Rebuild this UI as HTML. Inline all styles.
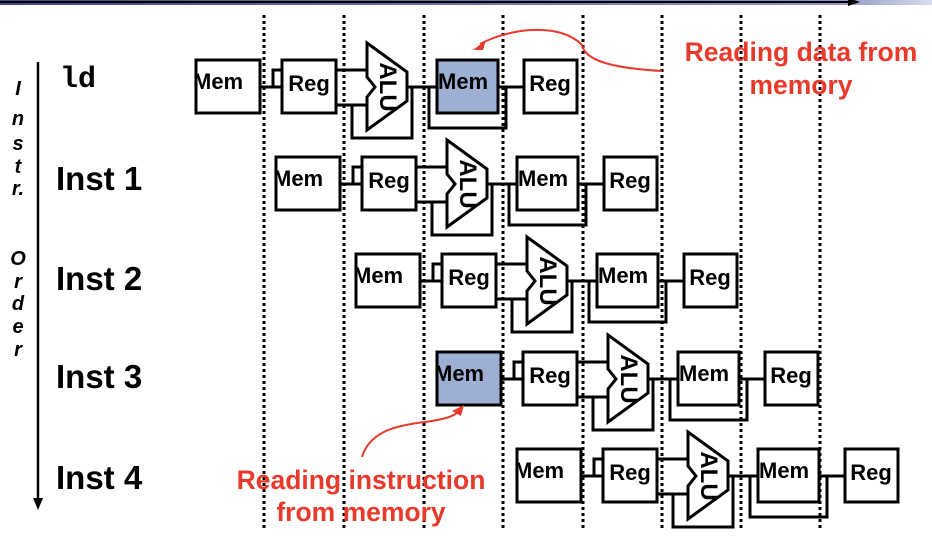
<!DOCTYPE html>
<html><head><meta charset="utf-8"><style>
html,body{margin:0;padding:0;background:#fff;}
svg{display:block;}
.b{fill:#fff;stroke:#000;stroke-width:3;}
.bl{fill:#9db0d4;stroke:#000;stroke-width:3;}
.w{fill:none;stroke:#000;stroke-width:3;}
.t{font-family:"Liberation Sans",sans-serif;font-weight:bold;font-size:22px;fill:#000;}
.a{font-family:"Liberation Sans",sans-serif;font-weight:bold;font-size:24px;fill:#000;}
.d{stroke:#000;stroke-width:3;stroke-dasharray:3 3;}
.r{font-family:"Liberation Sans",sans-serif;font-weight:bold;font-size:26.5px;fill:#e8392b;}
.L{font-family:"Liberation Sans",sans-serif;font-weight:bold;font-size:33px;fill:#000;}
.o{font-family:"Liberation Sans",sans-serif;font-weight:bold;font-style:italic;font-size:20px;fill:#000;}
</style></head><body>
<svg width="932" height="556" viewBox="0 0 932 556" xmlns="http://www.w3.org/2000/svg">
<defs>
<linearGradient id="g" x1="0" x2="1"><stop offset="0" stop-color="#3b4a86"/><stop offset="0.9" stop-color="#8d97c2"/><stop offset="1" stop-color="#d8dcec"/></linearGradient>
</defs>
<rect x="0" y="0" width="932" height="5" fill="url(#g)"/>
<line x1="0" y1="2" x2="850" y2="2" stroke="#000" stroke-width="2"/>
<polygon points="848,-2 860,2 848,6" fill="#000"/>

<g>
<line class="d" x1="264" y1="15" x2="264" y2="530"/>
<line class="d" x1="344" y1="15" x2="344" y2="530"/>
<line class="d" x1="424" y1="15" x2="424" y2="530"/>
<line class="d" x1="503" y1="15" x2="503" y2="530"/>
<line class="d" x1="583" y1="15" x2="583" y2="530"/>
<line class="d" x1="662" y1="15" x2="662" y2="530"/>
<line class="d" x1="741" y1="15" x2="741" y2="530"/>
<line class="d" x1="820" y1="15" x2="820" y2="530"/>
</g>

<line x1="38" y1="62" x2="38" y2="500" stroke="#000" stroke-width="2.5"/>
<polygon points="33,498 43,498 38,510" fill="#000"/>
<g class="o" text-anchor="middle">
<text x="18" y="95">I</text><text x="18" y="125">n</text><text x="18" y="150">s</text><text x="18" y="173">t</text><text x="18" y="195">r.</text>
<text x="18" y="265">O</text><text x="18" y="288">r</text><text x="18" y="310">d</text><text x="18" y="333">e</text><text x="18" y="356">r</text>
</g>
<text x="60" y="87" style="font-family:'Liberation Mono',monospace;font-weight:bold;font-size:30px">ld</text>
<text class="L" x="56" y="190">Inst 1</text>
<text class="L" x="56" y="290">Inst 2</text>
<text class="L" x="56" y="388">Inst 3</text>
<text class="L" x="56" y="489">Inst 4</text>

<g transform="translate(196,60)">
<rect class="b" x="0" y="0" width="64" height="53"/><text class="t" x="-3" y="29">Mem</text>
<path class="w" d="M64 27H86M77 27V10H86"/>
<rect class="b" x="86" y="0" width="54" height="53"/><text class="t" x="113" y="31" text-anchor="middle">Reg</text>
<path class="w" d="M140 10H172M140 45H172M156 45V78H216V27"/>
<polygon class="b" points="171,-17 211,12 211,41 171,70 171,37 179,27 171,17"/>
<text class="a" transform="translate(184,27) rotate(90)" text-anchor="middle">ALU</text>
<path class="w" d="M211 27H241M233 27V68H310V27M302 27H328"/>
<rect class="bl" x="241" y="0" width="61" height="53"/><text class="t" x="242" y="29">Mem</text>
<rect class="b" x="328" y="0" width="53" height="53"/><text class="t" x="354" y="31" text-anchor="middle">Reg</text>
</g>
<g transform="translate(276,157)">
<rect class="b" x="0" y="0" width="64" height="53"/><text class="t" x="-3" y="29">Mem</text>
<path class="w" d="M64 27H86M77 27V10H86"/>
<rect class="b" x="86" y="0" width="54" height="53"/><text class="t" x="113" y="31" text-anchor="middle">Reg</text>
<path class="w" d="M140 10H172M140 45H172M156 45V78H216V27"/>
<polygon class="b" points="171,-17 211,12 211,41 171,70 171,37 179,27 171,17"/>
<text class="a" transform="translate(184,27) rotate(90)" text-anchor="middle">ALU</text>
<path class="w" d="M211 27H241M233 27V68H310V27M302 27H328"/>
<rect class="b" x="241" y="0" width="61" height="53"/><text class="t" x="242" y="29">Mem</text>
<rect class="b" x="328" y="0" width="53" height="53"/><text class="t" x="354" y="31" text-anchor="middle">Reg</text>
</g>
<g transform="translate(356,254)">
<rect class="b" x="0" y="0" width="64" height="53"/><text class="t" x="-3" y="29">Mem</text>
<path class="w" d="M64 27H86M77 27V10H86"/>
<rect class="b" x="86" y="0" width="54" height="53"/><text class="t" x="113" y="31" text-anchor="middle">Reg</text>
<path class="w" d="M140 10H172M140 45H172M156 45V78H216V27"/>
<polygon class="b" points="171,-17 211,12 211,41 171,70 171,37 179,27 171,17"/>
<text class="a" transform="translate(184,27) rotate(90)" text-anchor="middle">ALU</text>
<path class="w" d="M211 27H241M233 27V68H310V27M302 27H328"/>
<rect class="b" x="241" y="0" width="61" height="53"/><text class="t" x="242" y="29">Mem</text>
<rect class="b" x="328" y="0" width="53" height="53"/><text class="t" x="354" y="31" text-anchor="middle">Reg</text>
</g>
<g transform="translate(437,352)">
<rect class="bl" x="0" y="0" width="64" height="53"/><text class="t" x="-3" y="29">Mem</text>
<path class="w" d="M64 27H86M77 27V10H86"/>
<rect class="b" x="86" y="0" width="54" height="53"/><text class="t" x="113" y="31" text-anchor="middle">Reg</text>
<path class="w" d="M140 10H172M140 45H172M156 45V78H216V27"/>
<polygon class="b" points="171,-17 211,12 211,41 171,70 171,37 179,27 171,17"/>
<text class="a" transform="translate(184,27) rotate(90)" text-anchor="middle">ALU</text>
<path class="w" d="M211 27H241M233 27V68H310V27M302 27H328"/>
<rect class="b" x="241" y="0" width="61" height="53"/><text class="t" x="242" y="29">Mem</text>
<rect class="b" x="328" y="0" width="53" height="53"/><text class="t" x="354" y="31" text-anchor="middle">Reg</text>
</g>
<g transform="translate(517,449)">
<rect class="b" x="0" y="0" width="64" height="53"/><text class="t" x="-3" y="29">Mem</text>
<path class="w" d="M64 27H86M77 27V10H86"/>
<rect class="b" x="86" y="0" width="54" height="53"/><text class="t" x="113" y="31" text-anchor="middle">Reg</text>
<path class="w" d="M140 10H172M140 45H172M156 45V78H216V27"/>
<polygon class="b" points="171,-17 211,12 211,41 171,70 171,37 179,27 171,17"/>
<text class="a" transform="translate(184,27) rotate(90)" text-anchor="middle">ALU</text>
<path class="w" d="M211 27H241M233 27V68H310V27M302 27H328"/>
<rect class="b" x="241" y="0" width="61" height="53"/><text class="t" x="242" y="29">Mem</text>
<rect class="b" x="328" y="0" width="53" height="53"/><text class="t" x="354" y="31" text-anchor="middle">Reg</text>
</g>

<path d="M662 71 C610 68 585 60 582 45 C560 22 510 28 480 44" fill="none" stroke="#e8392b" stroke-width="2"/>
<polygon points="473,50 486,40 483,50" fill="#e8392b"/>
<text class="r" x="801" y="61" text-anchor="middle">Reading data from</text>
<text class="r" x="801" y="94" text-anchor="middle">memory</text>
<path d="M362 457 C370 430 400 425 425 422 C440 420 455 417 460 410" fill="none" stroke="#e8392b" stroke-width="2"/>
<polygon points="464,405 452,411 461,416" fill="#e8392b"/>
<text class="r" x="361" y="489" text-anchor="middle">Reading instruction</text>
<text class="r" x="361" y="521" text-anchor="middle">from memory</text>
</svg>
</body></html>
